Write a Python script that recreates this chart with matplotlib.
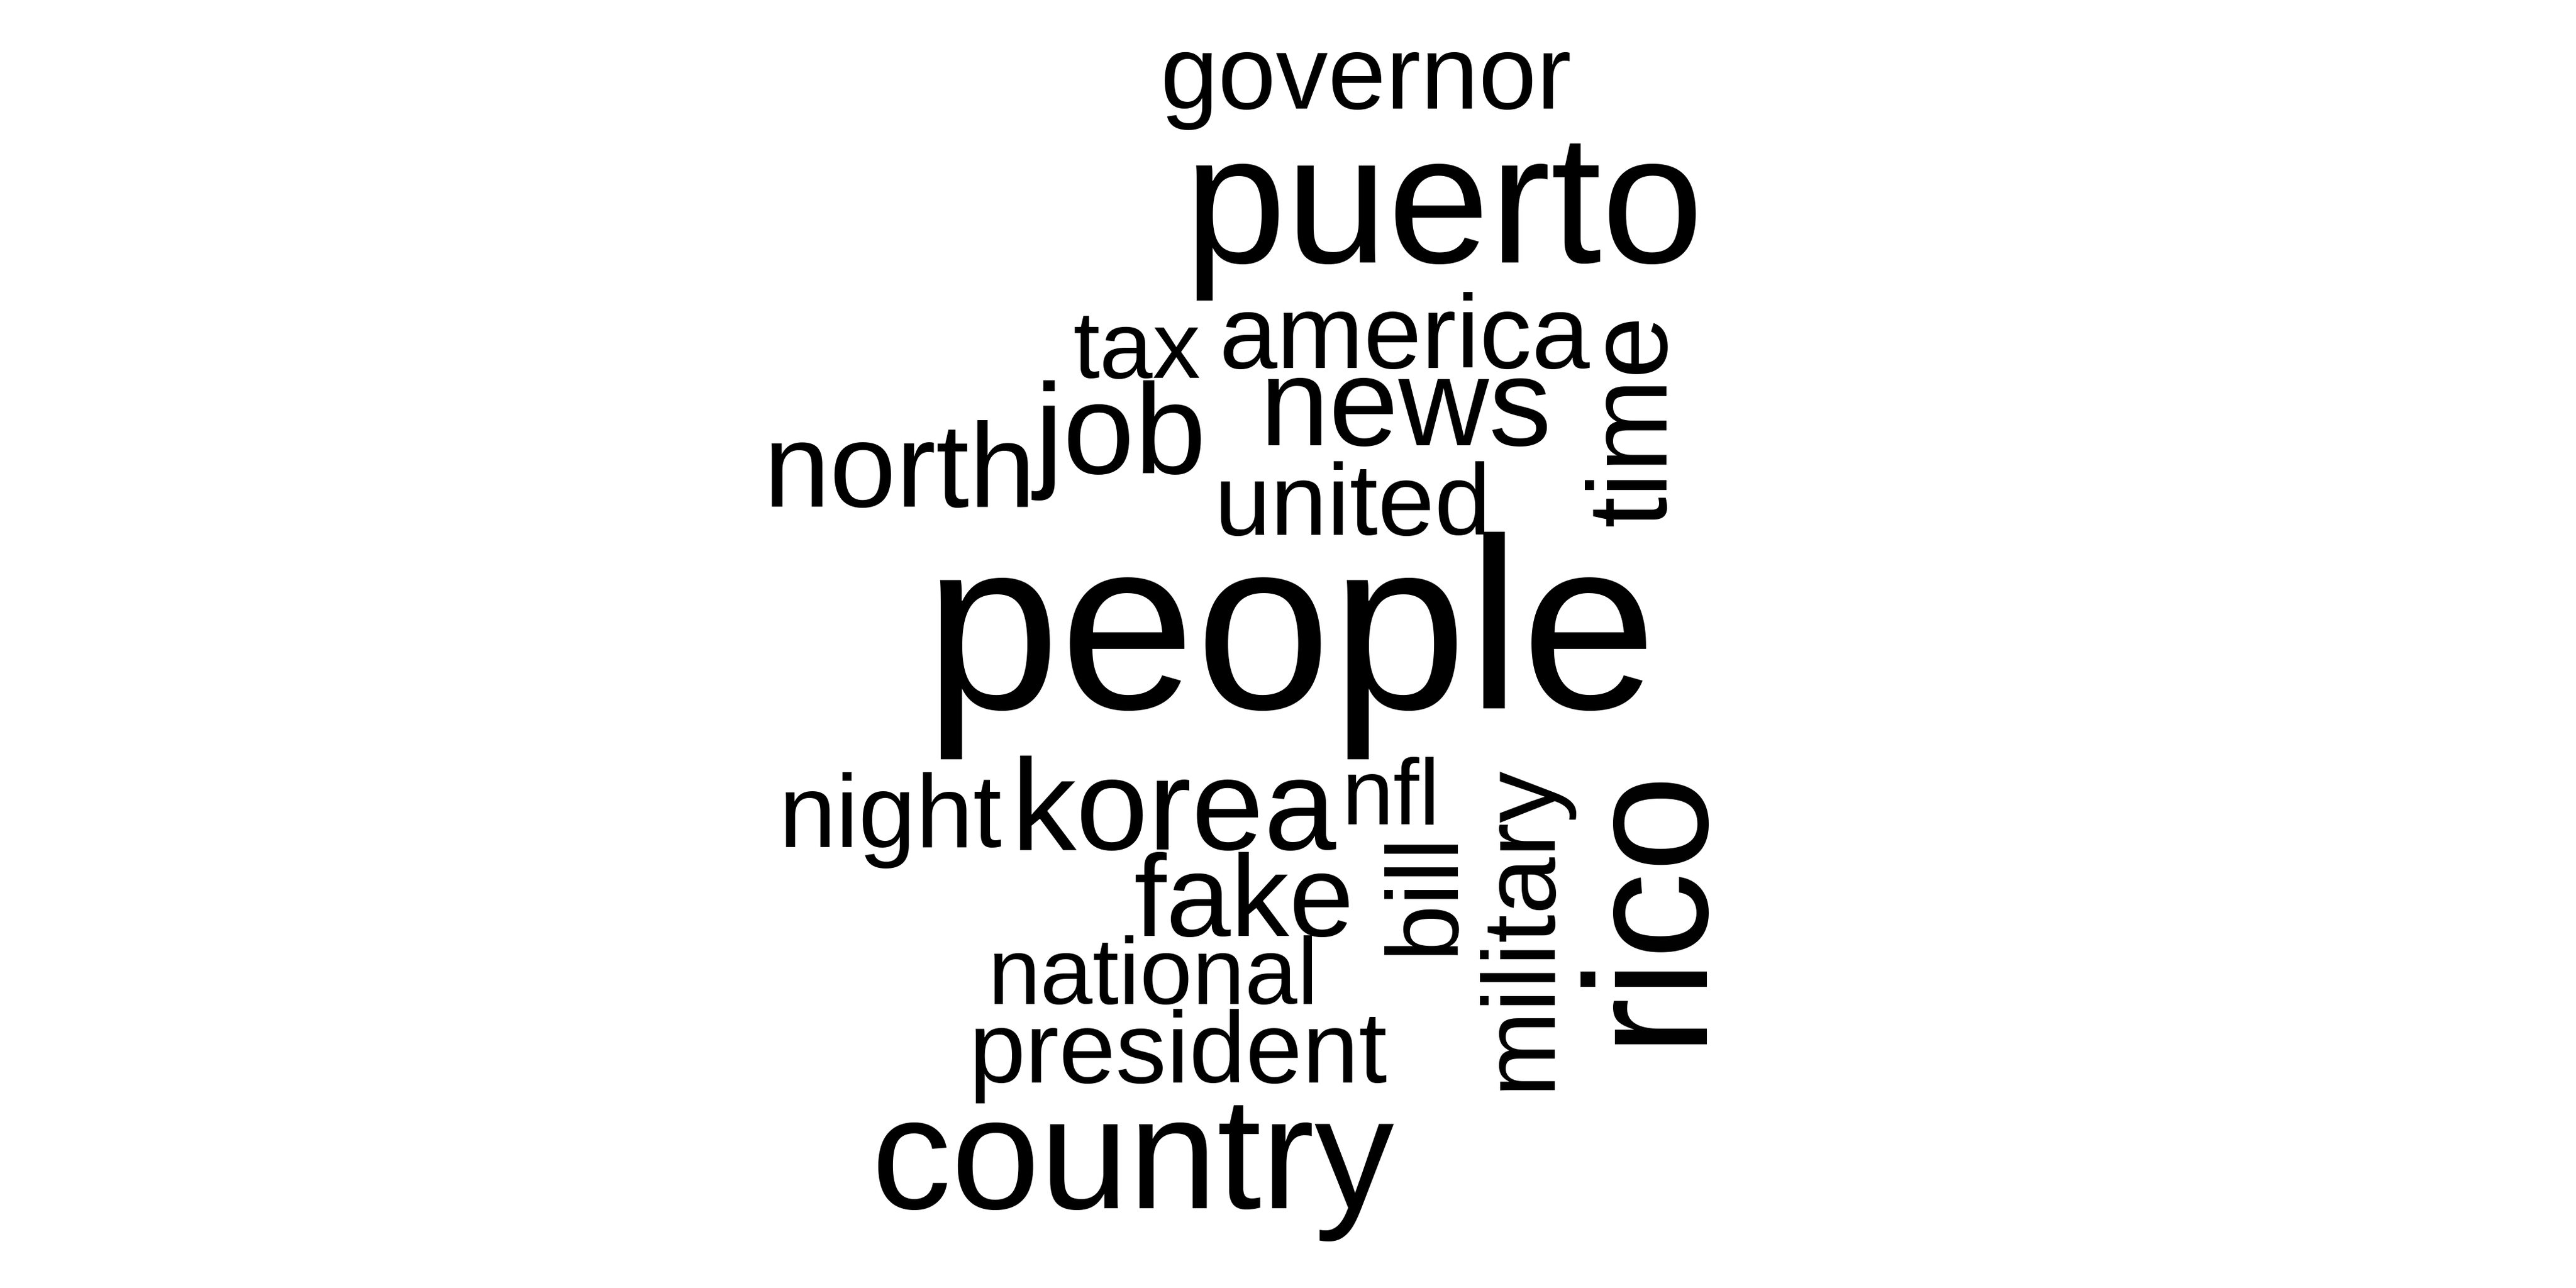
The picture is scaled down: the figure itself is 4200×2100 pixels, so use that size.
import matplotlib
matplotlib.use("Agg")
import matplotlib.pyplot as plt

# word frequencies (relative units)
words = ["people", "puerto", "rico", "country", "korea", "job", "news",
         "north", "fake", "time", "america", "governor", "night", "military",
         "bill", "united", "president", "tax", "national", "nfl"]
freq = [100, 75.1, 71.6, 65.3, 53.3, 52.8, 51.3,
        49, 47.7, 46, 42.7, 42.7, 42.2, 42.2,
        41.7, 41.7, 41.7, 39.2, 38.7, 38.2]

# layout of the cloud in pixels: (x, baseline y, rotation)
layout = {
    "governor": (2227, 177, 0),
    "puerto": (2354, 428, 0),
    "tax": (1854, 616, 0),
    "america": (2290, 600, 0),
    "news": (2292, 726, 0),
    "job": (1826, 772, 0),
    "north": (1466, 826, 0),
    "united": (2205, 872, 0),
    "people": (2104, 1155, 0),
    "night": (1452, 1381, 0),
    "korea": (1914, 1385, 0),
    "nfl": (2268, 1343, 0),
    "fake": (2028, 1526, 0),
    "national": (1880, 1637, 0),
    "president": (1921, 1765, 0),
    "country": (1847, 1970, 0),
    "time": (2715, 685, 90),
    "bill": (2367, 1456, 90),
    "military": (2525, 1511, 90),
    "rico": (2765, 1472, 90),
}

W, H, DPI = 4200, 2100, 100
MAX_EM = 398  # pixel em size of the most frequent word

fig = plt.figure(figsize=(W / DPI, H / DPI), dpi=DPI)
ax = fig.add_axes([0, 0, 1, 1])
ax.set_xlim(0, W)
ax.set_ylim(H, 0)
ax.axis("off")

fmax = max(freq)
for w, f in zip(words, freq):
    x, y, rot = layout[w]
    em = MAX_EM * f / fmax
    ax.text(x, y, w, fontsize=em * 72 / DPI, family="Liberation Sans",
            color="black", ha="center", va="baseline",
            rotation=rot, rotation_mode="anchor")

fig.savefig("out.png", dpi=DPI, facecolor="white")
